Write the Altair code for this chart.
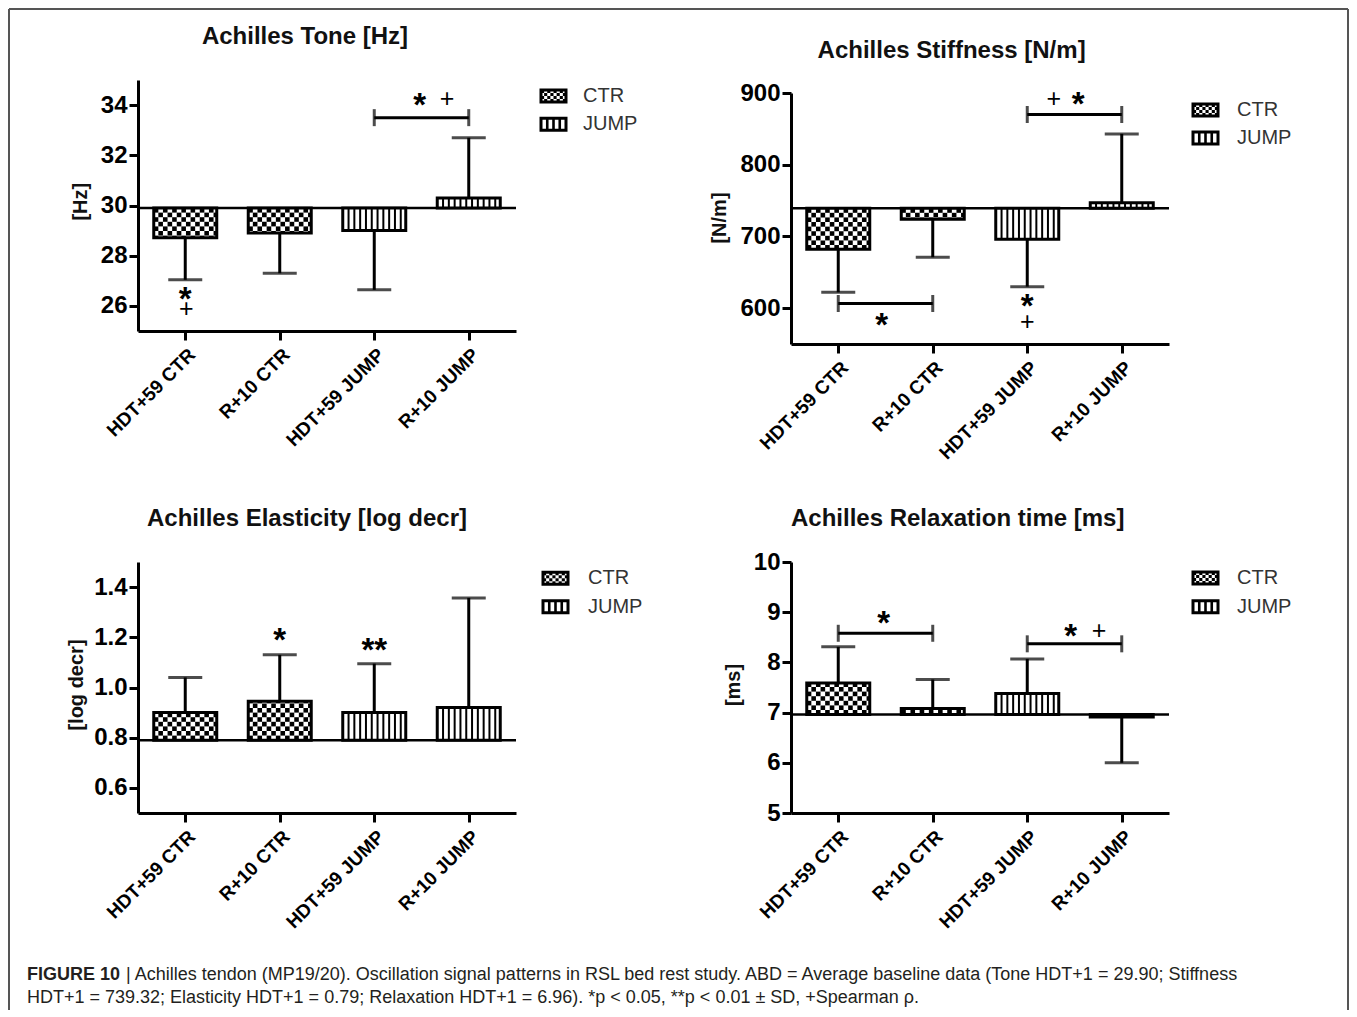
import json
import numpy as np
import pandas as pd
import altair as alt

# ---------------- data ----------------
categories = ["HDT+59 CTR", "R+10 CTR", "HDT+59 JUMP", "R+10 JUMP"]
groups = ["CTR", "CTR", "JUMP", "JUMP"]

tone_mean = [28.72, 28.90, 29.00, 30.30]
tone_sd = [1.68, 1.60, 2.36, 2.40]
tone_base = 29.90

stiff_mean = [682.0, 724.0, 696.0, 747.0]
stiff_sd = [60.0, 53.0, 66.0, 96.0]
stiff_base = 739.32

elast_mean = [0.900, 0.945, 0.900, 0.920]
elast_sd = [0.140, 0.185, 0.195, 0.437]
elast_base = 0.79

relax_mean = [7.59, 7.08, 7.38, 6.91]
relax_sd = [0.72, 0.58, 0.69, 0.91]
relax_base = 6.96

# significance brackets: (from category, to category, value)
tone_brackets = [(2, 3, 33.5)]
stiff_brackets = [(2, 3, 870.0), (0, 1, 606.5)]
elast_brackets = []
relax_brackets = [(0, 1, 8.58), (2, 3, 8.37)]

# significance symbols: (x position in category units, value, symbol)
tone_marks = [(2.48, 34.28, "*"), (2.77, 34.28, "+"), (0.0, 26.55, "*"), (0.01, 25.90, "+")]
stiff_marks = [(2.28, 893.5, "+"), (2.54, 893.5, "*"), (0.46, 585.0, "*"),
               (2.0, 612.0, "*"), (2.0, 581.5, "+")]
elast_marks = [(1.0, 1.217, "*"), (2.0, 1.177, "**")]
relax_marks = [(0.48, 8.914, "*"), (2.46, 8.649, "*"), (2.76, 8.649, "+")]

caption_bold = "FIGURE 10"
caption_line1 = ("| Achilles tendon (MP19/20). Oscillation signal patterns in RSL bed rest study. "
                 "ABD = Average baseline data (Tone HDT+1 = 29.90; Stiffness")
caption_line2 = ("HDT+1 = 739.32; Elasticity HDT+1 = 0.79; Relaxation HDT+1 = 6.96). "
                 "*p < 0.05, **p < 0.01 \u00b1 SD, +Spearman \u03c1.")

# ---------------- layout ----------------
FONT = "Liberation Sans"
W = 378
X_PX = W / 4.0
BAR_HALF = 1 / 3
label_expr = "[" + ",".join(json.dumps(c) for c in categories) + "][datum.value]"

xaxis = alt.Axis(values=[0, 1, 2, 3], labelExpr=label_expr, labelAngle=-45,
                 labelFont=FONT, labelFontSize=19, labelFontWeight="bold", labelColor="black",
                 tickSize=9, tickWidth=3, tickColor="black", domainWidth=3, domainColor="black",
                 grid=False, title=None, labelPadding=5, labelOverlap=False, labelBound=False,
                 labelFlush=False)


def make_panel(cfg, extra_layers=()):
    means, sds, base = cfg["mean"], cfg["sd"], cfg["base"]
    d0, d1 = cfg["domain"]
    rb, rt = cfg["range"]
    ypx = (rb - rt) / (d1 - d0)

    def px2y(py):
        return d0 + (rb - py) / ypx

    def px2x(px):
        return px / X_PX - 0.5

    yaxis = alt.Axis(values=cfg["ticks"], format=cfg["fmt"], labelFont=FONT, labelFontSize=24,
                     labelFontWeight="bold", labelColor="black", tickSize=9, tickWidth=3,
                     tickColor="black", domainWidth=3, domainColor="black", grid=False,
                     title=None, labelPadding=2, labelFlush=False)
    xs = alt.Scale(domain=[-0.5, 3.5], nice=False, zero=False)
    ys = alt.Scale(domain=[d0, d1], range=[rb, rt], nice=False, zero=False)

    def X(f):
        return alt.X(f, type="quantitative", scale=xs, axis=xaxis)

    def Y(f):
        return alt.Y(f, type="quantitative", scale=ys, axis=yaxis)

    ends = [m + s if m >= base else m - s for m, s in zip(means, sds)]
    bars = pd.DataFrame({"i": list(range(4)), "group": groups, "mean": means, "end": ends})
    bars["base"] = base
    bars["x0"] = bars["i"] - BAR_HALF
    bars["x1"] = bars["i"] + BAR_HALF

    # pattern tiles derived from the bars
    tiles = []
    for i, (m, g) in enumerate(zip(means, groups)):
        x0, x1 = i - BAR_HALF, i + BAR_HALF
        sgn = 1 if m >= base else -1
        span = abs(m - base)
        if g == "CTR":
            c = 4.6
            cx, cy = c / X_PX, c / ypx
            nx = int(np.ceil((x1 - x0) / cx))
            ny = int(np.ceil(span / cy))
            for j in range(nx):
                for k in range(ny):
                    if (j + k) % 2 == 0:
                        a = x0 + j * cx
                        b = min(a + cx, x1)
                        ya = base + sgn * k * cy
                        yb = base + sgn * min((k + 1) * cy, span)
                        tiles.append(dict(x0=a, x1=b, y0=ya, y1=yb))
        else:
            sp = 5.8 / X_PX
            w = 2.0 / X_PX
            n = int((x1 - x0) / sp)
            for j in range(1, n + 1):
                cxp = x0 + j * sp
                if cxp + w / 2 < x1:
                    tiles.append(dict(x0=cxp - w / 2, x1=cxp + w / 2, y0=base, y1=m))
    tdf = pd.DataFrame(tiles)

    layers = []
    bdf = pd.DataFrame({"base": [base], "xa": [-0.5], "xb": [3.5]})
    layers.append(alt.Chart(bdf).mark_rule(color="black", strokeWidth=2.5)
                  .encode(x=X("xa"), x2="xb", y=Y("base")))
    layers.append(alt.Chart(bars).mark_rule(color="black", strokeWidth=3)
                  .encode(x=X("i"), y=Y("mean"), y2="end"))
    layers.append(alt.Chart(bars).mark_tick(color="black", orient="horizontal", size=34, thickness=3)
                  .encode(x=X("i"), y=Y("end")))
    layers.append(alt.Chart(bars).mark_rect(fill="white")
                  .encode(x=X("x0"), x2="x1", y=Y("base"), y2="mean"))
    layers.append(alt.Chart(tdf).mark_rect(color="black")
                  .encode(x=X("x0"), x2="x1", y=Y("y0"), y2="y1"))
    layers.append(alt.Chart(bars).mark_rect(fill="white", fillOpacity=0, stroke="black", strokeWidth=3)
                  .encode(x=X("x0"), x2="x1", y=Y("base"), y2="mean"))

    if cfg["brackets"]:
        brdf = pd.DataFrame(cfg["brackets"], columns=["a", "b", "y"])
        layers.append(alt.Chart(brdf).mark_rule(color="black", strokeWidth=3)
                      .encode(x=X("a"), x2="b", y=Y("y")))
        edf = pd.DataFrame([(a, y) for a, b, y in cfg["brackets"]] +
                           [(b, y) for a, b, y in cfg["brackets"]], columns=["x", "y"])
        layers.append(alt.Chart(edf).mark_tick(color="black", orient="vertical", size=17, thickness=3)
                      .encode(x=X("x"), y=Y("y")))

    mdf = pd.DataFrame(cfg["marks"], columns=["x", "y", "t"])
    stars = mdf[mdf["t"] != "+"]
    plus = mdf[mdf["t"] == "+"]
    if len(stars):
        layers.append(alt.Chart(stars).mark_text(font=FONT, fontSize=33, fontWeight="bold", dy=7.5,
                                                 color="black", align="center", baseline="middle")
                      .encode(x=X("x"), y=Y("y"), text="t:N"))
    if len(plus):
        layers.append(alt.Chart(plus).mark_text(font=FONT, fontSize=25, dy=1, color="black",
                                                align="center", baseline="middle")
                      .encode(x=X("x"), y=Y("y"), text="t:N"))

    # legend (drawn in the panel's coordinates)
    lg = cfg["legend"]
    sw, sh = 25, 12
    sw_rows, lg_tiles, lg_text = [], [], []
    for g, cyp in zip(["CTR", "JUMP"], lg["rows"]):
        px0, px1 = lg["sx"], lg["sx"] + sw
        py0, py1 = cyp - sh / 2, cyp + sh / 2
        sw_rows.append(dict(x0=px2x(px0), x1=px2x(px1), y0=px2y(py1), y1=px2y(py0)))
        lg_text.append(dict(x=px2x(lg["tx"]), y=px2y(cyp), label=g))
        if g == "CTR":
            c = 3.125
            for j in range(8):
                for k in range(4):
                    if (j + k) % 2 == 0:
                        lg_tiles.append(dict(x0=px2x(px0 + j * c), x1=px2x(px0 + (j + 1) * c),
                                             y0=px2y(py0 + (k + 1) * 3), y1=px2y(py0 + k * 3)))
        else:
            for j in range(1, 4):
                cxp = px0 + j * sw / 4
                lg_tiles.append(dict(x0=px2x(cxp - 1.3), x1=px2x(cxp + 1.3),
                                     y0=px2y(py1), y1=px2y(py0)))
    layers.append(alt.Chart(pd.DataFrame(sw_rows)).mark_rect(fill="white")
                  .encode(x=X("x0"), x2="x1", y=Y("y0"), y2="y1"))
    layers.append(alt.Chart(pd.DataFrame(lg_tiles)).mark_rect(color="black")
                  .encode(x=X("x0"), x2="x1", y=Y("y0"), y2="y1"))
    layers.append(alt.Chart(pd.DataFrame(sw_rows)).mark_rect(fill="white", fillOpacity=0,
                                                             stroke="black", strokeWidth=3)
                  .encode(x=X("x0"), x2="x1", y=Y("y0"), y2="y1"))
    layers.append(alt.Chart(pd.DataFrame(lg_text)).mark_text(font=FONT, fontSize=20, color="#333333",
                                                             align="left", baseline="middle")
                  .encode(x=X("x"), y=Y("y"), text="label:N"))

    one = pd.DataFrame({"a": [0]})
    tx, ty = cfg["title_pos"]
    layers.append(alt.Chart(one).mark_text(font=FONT, fontSize=24, fontWeight="bold", color="#111111",
                                           align="center", baseline="middle")
                  .encode(x=alt.value(tx), y=alt.value(ty), text=alt.value(cfg["title"])))
    yx, yy = cfg["ytitle_pos"]
    layers.append(alt.Chart(one).mark_text(font=FONT, fontSize=20, fontWeight="bold", color="#111111",
                                           align="center", baseline="middle", angle=270)
                  .encode(x=alt.value(yx), y=alt.value(yy), text=alt.value(cfg["ytitle"])))

    layers.extend(extra_layers)
    return alt.layer(*layers).properties(width=W, height=cfg["height"])


one = pd.DataFrame({"a": [0]})
frame_col = "#555555"
frame = [
    alt.Chart(one).mark_rule(color=frame_col, strokeWidth=2)
    .encode(x=alt.value(-129), y=alt.value(-71), y2=alt.value(930)),
    alt.Chart(one).mark_rule(color=frame_col, strokeWidth=2)
    .encode(x=alt.value(-129), x2=alt.value(1210), y=alt.value(-71)),
    alt.Chart(one).mark_rule(color=frame_col, strokeWidth=2)
    .encode(x=alt.value(1210), y=alt.value(-71), y2=alt.value(930)),
    alt.Chart(one).mark_text(font=FONT, fontSize=18, fontWeight="bold", color="#231f20",
                             align="left", baseline="alphabetic")
    .encode(x=alt.value(-111), y=alt.value(900), text=alt.value(caption_bold)),
    alt.Chart(one).mark_text(font=FONT, fontSize=18, color="#231f20", align="left", baseline="alphabetic")
    .encode(x=alt.value(-12), y=alt.value(900), text=alt.value(caption_line1)),
    alt.Chart(one).mark_text(font=FONT, fontSize=18, color="#231f20", align="left", baseline="alphabetic")
    .encode(x=alt.value(-111), y=alt.value(923), text=alt.value(caption_line2)),
]

p1 = make_panel(dict(mean=tone_mean, sd=tone_sd, base=tone_base, domain=[25, 35], range=[251, 0],
                     height=251, ticks=[26, 28, 30, 32, 34], fmt="d", brackets=tone_brackets,
                     marks=tone_marks, legend=dict(sx=403, tx=445, rows=[16, 44.3]),
                     title="Achilles Tone [Hz]", title_pos=(167, -43.3),
                     ytitle="[Hz]", ytitle_pos=(-57, 121.7)), frame)
p2 = make_panel(dict(mean=stiff_mean, sd=stiff_sd, base=stiff_base, domain=[550, 900], range=[264, 13],
                     height=264, ticks=[600, 700, 800, 900], fmt="d", brackets=stiff_brackets,
                     marks=stiff_marks, legend=dict(sx=402, tx=446, rows=[30, 58]),
                     title="Achilles Stiffness [N/m]", title_pos=(160.6, -29.3),
                     ytitle="[N/m]", ytitle_pos=(-71, 138)))
p3 = make_panel(dict(mean=elast_mean, sd=elast_sd, base=elast_base, domain=[0.5, 1.5], range=[251, 0],
                     height=251, ticks=[0.6, 0.8, 1.0, 1.2, 1.4], fmt=".1f", brackets=elast_brackets,
                     marks=elast_marks, legend=dict(sx=405, tx=450, rows=[16.3, 44.7]),
                     title="Achilles Elasticity [log decr]", title_pos=(169, -43),
                     ytitle="[log decr]", ytitle_pos=(-61, 123)))
p4 = make_panel(dict(mean=relax_mean, sd=relax_sd, base=relax_base, domain=[5, 10], range=[251, 0],
                     height=251, ticks=[5, 6, 7, 8, 9, 10], fmt="d", brackets=relax_brackets,
                     marks=relax_marks, legend=dict(sx=402, tx=446, rows=[16, 44.7]),
                     title="Achilles Relaxation time [ms]", title_pos=(166.7, -43),
                     ytitle="[ms]", ytitle_pos=(-57.4, 123)))

chart = alt.concat(p1, p2, p3, p4, columns=2, spacing={"row": 218, "column": 275},
                   bounds="flush").properties(padding=0).configure_view(stroke=None)

chart.save("out.html", embed_options={"renderer": "svg", "actions": False})
